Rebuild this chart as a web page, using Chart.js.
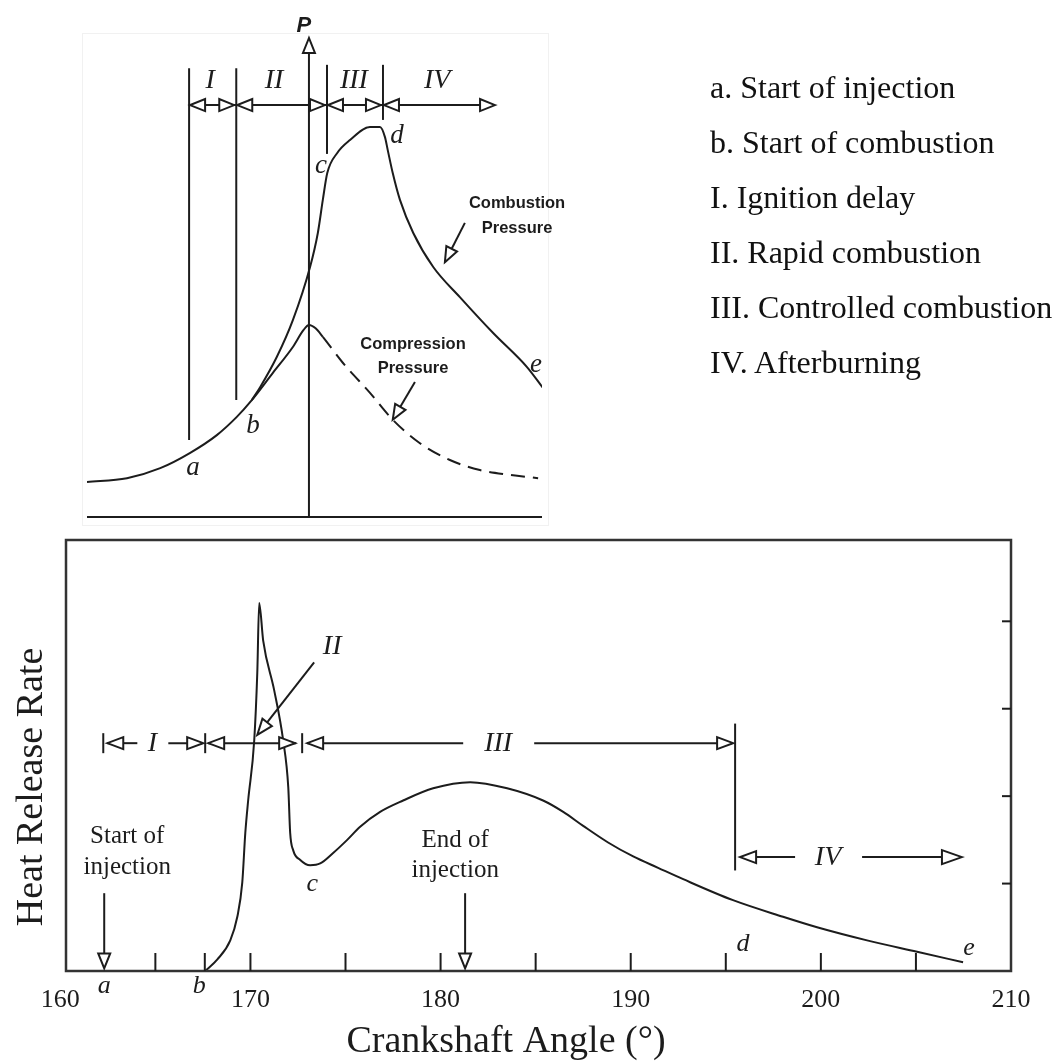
<!DOCTYPE html>
<html>
<head>
<meta charset="utf-8">
<script src="https://cdn.jsdelivr.net/npm/chart.js@4.4.1/dist/chart.umd.min.js"></script>
<style>
  body { margin:0; background:#fff; }
  #wrap { position:relative; width:1059px; height:1062px; overflow:hidden; }
  #top { position:absolute; left:0; top:0; }
  #bot { position:absolute; left:0; top:530px; }
  .key { position:absolute; left:710px; font:32px "Liberation Serif","Times New Roman",serif; line-height:32px; color:#111; white-space:nowrap; }
</style>
</head>
<body>
<div id="wrap">
  <canvas id="top" width="1059" height="530"></canvas>
  <canvas id="bot" width="1059" height="532"></canvas>
</div>
<script>
// ── Top panel: schematic pressure trace (TDC = 0, arbitrary units) ──
const compAngle = [-40,-32.8,-26.8,-21.4,-16.6,-13.0,-10.3,-6.5,-2.9,-1.0,0,1.2,2.5,6.1,11.0,15.1,20.0,25.4,30.8,36.2,41.3];
const compP     = [7.3,8.1,10.2,13.4,17.1,20.9,24.4,30.1,35.5,39.0,40.1,39.4,37.6,32.2,25.9,20.3,15.4,11.9,9.8,8.8,8.1];
const combAngle = [-10.3,-8.8,-5.8,-2.9,0.2,1.6,2.5,3.3,5.1,7.4,11.0,12.8,13.7,14.2,15.1,16.4,18.8,22.4,27.2,33.2,39.3,42.2];
const combP     = [24.4,27.1,33.4,41.1,52.2,59.3,66.2,71.8,76.0,78.7,81.4,81.4,79.3,76.6,71.8,66.2,59.3,52.2,45.9,38.4,31.3,26.9];
const topPhaseEdges = [-21.6,-13.1,3.25,13.34,33.9];
const topPhaseNames = ["I","II","III","IV"];

// ── Bottom panel: heat release rate vs crank angle ──
const hrrAngle = [167.62,168.25,168.94,169.31,169.57,169.73,169.88,170.2,170.36,170.46,170.67,171.25,171.72,171.99,172.09,172.25,172.62,173.14,173.67,174.35,175.09,175.77,
                  176.82,178.03,179.61,181.56,183.5,185.39,186.45,187.5,188.81,190.13,191.44,192.76,195.38,198.01,199.8,202.43,205.06,207.48];
const hrr      = [0,0.13,0.35,0.62,1.01,1.58,1.95,2.64,3.41,4.21,3.78,3.21,2.64,2.10,1.58,1.38,1.27,1.21,1.23,1.35,1.5,1.65,
                  1.82,1.95,2.09,2.16,2.09,1.95,1.82,1.66,1.47,1.31,1.18,1.05,0.81,0.62,0.50,0.35,0.22,0.10];
const angleLabels = [160,170,180,190,200,210];
const angleTicks  = [165,167.6,170,175,180,185,190,195,200,205];
const hrrTicks    = [1,2,3,4];
const hrrPhaseEdges = [162.26,167.62,172.72,195.49];
const injection = [162.31,181.29];   // start / end of injection

const keyLines = ["a. Start of injection","b. Start of combustion","I. Ignition delay",
                  "II. Rapid combustion","III. Controlled combustion","IV. Afterburning"];

const ink = "#1c1c1c";
const SERIF = '"Liberation Serif","Times New Roman",serif';

// ── helpers ──
function seg(ctx, x0, y0, x1, y1) { ctx.beginPath(); ctx.moveTo(x0,y0); ctx.lineTo(x1,y1); ctx.stroke(); }
function head(ctx, tx, ty, ang, len, half) {
  ctx.save(); ctx.translate(tx,ty); ctx.rotate(ang);
  ctx.beginPath(); ctx.moveTo(0,0); ctx.lineTo(-len,-half); ctx.lineTo(-len,half); ctx.closePath();
  ctx.fillStyle = "#fff"; ctx.fill(); ctx.stroke(); ctx.restore();
}
function arrow(ctx, x0, y0, x1, y1, len, half) {
  const a = Math.atan2(y1-y0, x1-x0);
  seg(ctx, x0, y0, x1-len*Math.cos(a), y1-len*Math.sin(a));
  head(ctx, x1, y1, a, len, half);
}
function text(ctx, s, x, y, font, align) {
  ctx.font = font; ctx.textAlign = align || "center"; ctx.textBaseline = "alphabetic"; ctx.fillText(s, x, y);
}

// ── top panel marks ──
const topMarks = {
  id: "topMarks",
  afterDatasetsDraw(chart) {
    const ctx = chart.ctx, X = v => chart.scales.x.getPixelForValue(v), Y = v => chart.scales.y.getPixelForValue(v);
    ctx.save();
    ctx.strokeStyle = "#f1f1f1"; ctx.lineWidth = 1;
    ctx.strokeRect(82.5, 33.5, 466, 492);
    ctx.strokeStyle = ink; ctx.fillStyle = ink; ctx.lineWidth = 2;

    seg(ctx, X(-40), Y(0), X(42), Y(0));
    // phase boundary lines
    seg(ctx, X(topPhaseEdges[0]), Y(93.7), X(topPhaseEdges[0]), Y(16.1));
    seg(ctx, X(topPhaseEdges[1]), Y(93.7), X(topPhaseEdges[1]), Y(24.4));
    seg(ctx, X(topPhaseEdges[2]), Y(94.4), X(topPhaseEdges[2]), Y(75.8));
    seg(ctx, X(topPhaseEdges[3]), Y(94.4), X(topPhaseEdges[3]), Y(82.9));
    // P axis
    arrow(ctx, X(0), Y(0), X(0), Y(100), 15, 6);

    // phase bar
    const yb = Y(86);
    seg(ctx, X(topPhaseEdges[0]), yb, X(topPhaseEdges.at(-1)) - 10, yb);
    for (let i = 0; i < topPhaseEdges.length - 1; i++) {
      head(ctx, X(topPhaseEdges[i]) + 1, yb, Math.PI, 15, 6);
      head(ctx, X(topPhaseEdges[i+1]) - 2, yb, 0, 15, 6);
    }
    const labX = [-17.8,-6.3,8.1,23.1];
    topPhaseNames.forEach((n,i) => text(ctx, n, X(labX[i]), Y(89.6), "italic 28px " + SERIF));

    text(ctx, "P", X(-0.9), Y(101.3), 'italic bold 22px "Liberation Sans",Arial,sans-serif');
    const f = "italic 27px " + SERIF;
    text(ctx, "a", X(-20.9), Y(8.8), f);
    text(ctx, "b", X(-10.1), Y(17.5), f);
    text(ctx, "c", X(2.17), Y(71.8), f);
    text(ctx, "d", X(15.87), Y(78.1), f);
    text(ctx, "e", X(40.9), Y(30.3), f);

    const bf = 'bold 16.5px "Liberation Sans",Arial,sans-serif';
    text(ctx, "Combustion", X(37.5), Y(64.5), bf);
    text(ctx, "Pressure", X(37.5), Y(59.3), bf);
    arrow(ctx, X(28.1), Y(61.4), X(24.5), Y(53.2), 15, 6);
    text(ctx, "Compression", X(18.75), Y(35.1), bf);
    text(ctx, "Pressure", X(18.75), Y(30.1), bf);
    arrow(ctx, X(19.1), Y(28.2), X(15.1), Y(20.3), 15, 6);
    ctx.restore();
  }
};

// ── bottom panel marks ──
const botMarks = {
  id: "botMarks",
  afterDatasetsDraw(chart) {
    const ctx = chart.ctx, a = chart.chartArea;
    const X = v => chart.scales.x.getPixelForValue(v), Y = v => chart.scales.y.getPixelForValue(v);
    ctx.save();
    ctx.strokeStyle = "#333"; ctx.fillStyle = ink; ctx.lineWidth = 2.5;
    ctx.strokeRect(a.left, a.top, a.right - a.left, a.bottom - a.top);
    ctx.lineWidth = 2; ctx.strokeStyle = ink;
    angleTicks.forEach(t => seg(ctx, X(t), a.bottom, X(t), a.bottom - 18));
    hrrTicks.forEach(t => seg(ctx, a.right, Y(t), a.right - 9, Y(t)));
    angleLabels.forEach(t => text(ctx, String(t), X(t), a.bottom + 36, "26px " + SERIF));

    text(ctx, "Crankshaft Angle (°)", 506, a.bottom + 81, "38px " + SERIF);
    ctx.save(); ctx.translate(42, 257); ctx.rotate(-Math.PI/2);
    text(ctx, "Heat Release Rate", 0, 0, "38px " + SERIF);
    ctx.restore();

    // phase bar I / II / III
    const yb = Y(2.606), L = 16, H = 6;
    hrrPhaseEdges.slice(0,3).forEach(e => seg(ctx, X(e), yb - 10, X(e), yb + 10));
    const e0 = X(hrrPhaseEdges[0]), e1 = X(hrrPhaseEdges[1]), e2 = X(hrrPhaseEdges[2]), e3 = X(hrrPhaseEdges[3]);
    // I
    const lI = X(164.84);
    seg(ctx, e0 + 4, yb, lI - 15, yb); seg(ctx, lI + 16, yb, e1 - 3, yb);
    head(ctx, e0 + 4, yb, Math.PI, L, H); head(ctx, e1 - 2, yb, 0, L, H);
    // II
    seg(ctx, e1 + 3, yb, e2 - 6, yb);
    head(ctx, e1 + 3, yb, Math.PI, L, H); head(ctx, e2 - 7, yb, 0, L, H);
    // III
    const lIII = X(183.03);
    seg(ctx, e2 + 5, yb, lIII - 35, yb); seg(ctx, lIII + 36, yb, e3 - 3, yb);
    head(ctx, e2 + 5, yb, Math.PI, L, H); head(ctx, e3 - 2, yb, 0, L, H);
    seg(ctx, e3, Y(2.83), e3, Y(1.15));
    text(ctx, "I", lI, Y(2.52), "italic 28px " + SERIF);
    text(ctx, "III", lIII, Y(2.52), "italic 28px " + SERIF);
    // II pointer
    arrow(ctx, X(173.35), Y(3.53), X(170.36), Y(2.70), 16, 6);
    text(ctx, "II", X(174.3), Y(3.63), "italic 28px " + SERIF);
    // IV
    const y4 = Y(1.303), lIV = X(200.38), end4 = X(207.42);
    seg(ctx, e3 + 5, y4, lIV - 33, y4); seg(ctx, lIV + 34, y4, end4 - 10, y4);
    head(ctx, e3 + 5, y4, Math.PI, L, H); head(ctx, end4, y4, 0, 20, 7);
    text(ctx, "IV", lIV, Y(1.21), "italic 28px " + SERIF);

    // injection markers
    injection.forEach(v => arrow(ctx, X(v), Y(0.89), X(v), Y(0.03), 15, 6));
    const tf = "25px " + SERIF;
    text(ctx, "Start of", X(163.52), Y(1.46), tf);
    text(ctx, "injection", X(163.52), Y(1.11), tf);
    text(ctx, "End of", X(180.77), Y(1.42), tf);
    text(ctx, "injection", X(180.77), Y(1.07), tf);

    const f = "italic 26px " + SERIF;
    text(ctx, "a", X(162.31), Y(-0.25), f);
    text(ctx, "b", X(167.31), Y(-0.25), f);
    text(ctx, "c", X(173.25), Y(0.91), f);
    text(ctx, "d", X(195.91), Y(0.23), f);
    text(ctx, "e", X(207.79), Y(0.18), f);
    ctx.restore();
  }
};

const baseOpts = {
  responsive: false, animation: false,
  plugins: { legend: { display:false }, tooltip: { enabled:false } },
  elements: { point: { radius:0 } }
};

new Chart(document.getElementById("top"), {
  type: "line",
  data: { datasets: [
    { data: compAngle.map((x,i) => ({x, y: compP[i]})), borderColor: ink, borderWidth: 2,
      cubicInterpolationMode: "monotone",
      segment: { borderDash: c => c.p0.parsed.x >= 2.5 ? [14,8] : undefined } },
    { data: combAngle.map((x,i) => ({x, y: combP[i]})), borderColor: ink, borderWidth: 2,
      cubicInterpolationMode: "monotone" }
  ]},
  options: { ...baseOpts,
    layout: { padding: { left:87, right:517, top:38, bottom:13 } },
    scales: { x: { type:"linear", min:-40, max:42, display:false }, y: { min:0, max:100, display:false } } },
  plugins: [topMarks]
});

new Chart(document.getElementById("bot"), {
  type: "line",
  data: { datasets: [
    { data: hrrAngle.map((x,i) => ({x, y: hrr[i]})), borderColor: ink, borderWidth: 2,
      cubicInterpolationMode: "monotone" }
  ]},
  options: { ...baseOpts,
    layout: { padding: { left:66, right:48, top:10, bottom:91 } },
    scales: { x: { type:"linear", min:160.3, max:210, display:false }, y: { min:0, max:4.93, display:false } } },
  plugins: [botMarks]
});

// key list at the right of the top panel
const wrap = document.getElementById("wrap");
keyLines.forEach((s,i) => {
  const d = document.createElement("div");
  d.className = "key"; d.textContent = s; d.style.top = (71 + 55*i) + "px";
  wrap.appendChild(d);
});
</script>
</body>
</html>
